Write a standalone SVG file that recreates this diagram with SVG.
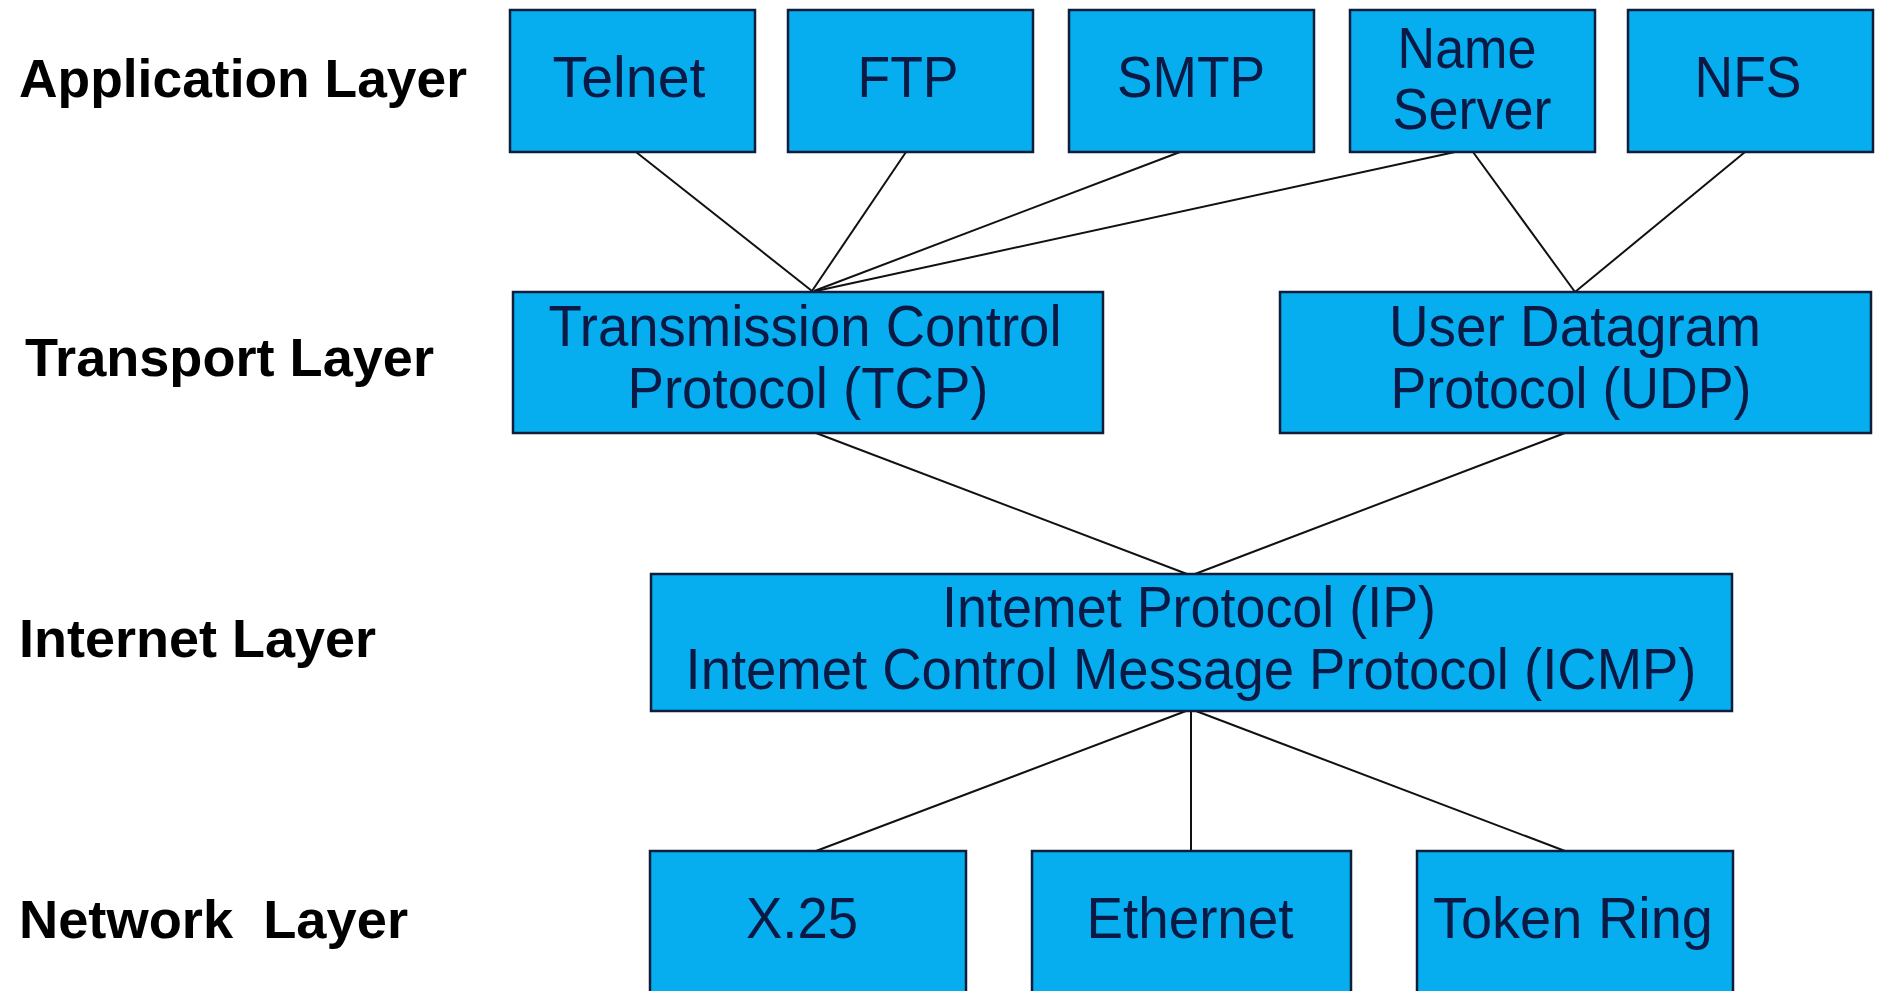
<svg xmlns="http://www.w3.org/2000/svg" width="1877" height="991" viewBox="0 0 1877 991">
<style>
.box{fill:#06AEEF;stroke:#0f1d3a;stroke-width:2.5}
.t{font-family:"Liberation Sans",Arial,sans-serif;font-size:57px;fill:#0b1a45;text-anchor:middle}
.lbl{font-family:"Liberation Sans",Arial,sans-serif;font-size:54px;font-weight:bold;fill:#000;white-space:pre}
.c line{stroke:#111;stroke-width:2}
</style>
<rect width="1877" height="991" fill="#fff"/>
<g id="labels">
<text class="lbl" x="19" y="97" textLength="448" lengthAdjust="spacingAndGlyphs">Application Layer</text>
<text class="lbl" x="25" y="376" textLength="409" lengthAdjust="spacingAndGlyphs">Transport Layer</text>
<text class="lbl" x="19" y="657" textLength="357" lengthAdjust="spacingAndGlyphs">Internet Layer</text>
<text class="lbl" x="19" y="938" textLength="389" lengthAdjust="spacingAndGlyphs" xml:space="preserve">Network  Layer</text>
</g>
<g class="c" id="connectors">
<line x1="636" y1="152" x2="812" y2="291"/>
<line x1="906" y1="152" x2="812" y2="291"/>
<line x1="1180" y1="152" x2="814" y2="291"/>
<line x1="1455" y1="152" x2="816" y2="291"/>
<line x1="1473" y1="152" x2="1575" y2="292"/>
<line x1="1745" y1="152" x2="1575" y2="292"/>
<line x1="816" y1="433" x2="1187" y2="574"/>
<line x1="1565" y1="433" x2="1195" y2="574"/>
<line x1="1186" y1="711" x2="816" y2="851"/>
<line x1="1191" y1="711" x2="1191" y2="851"/>
<line x1="1196" y1="711" x2="1565" y2="851"/>
</g>
<g id="telnet"><rect class="box" x="510" y="10" width="245" height="142"/><text class="t" x="629" y="97" textLength="153" lengthAdjust="spacingAndGlyphs">Telnet</text></g>
<g id="ftp"><rect class="box" x="788" y="10" width="245" height="142"/><text class="t" x="908" y="97" textLength="101" lengthAdjust="spacingAndGlyphs">FTP</text></g>
<g id="smtp"><rect class="box" x="1069" y="10" width="245" height="142"/><text class="t" x="1191" y="97" textLength="148" lengthAdjust="spacingAndGlyphs">SMTP</text></g>
<g id="nameserver"><rect class="box" x="1350" y="10" width="245" height="142"/><text class="t" x="1467" y="68" textLength="139" lengthAdjust="spacingAndGlyphs">Name</text><text class="t" x="1472" y="129" textLength="159" lengthAdjust="spacingAndGlyphs">Server</text></g>
<g id="nfs"><rect class="box" x="1628" y="10" width="245" height="142"/><text class="t" x="1748" y="97" textLength="107" lengthAdjust="spacingAndGlyphs">NFS</text></g>
<g id="tcp"><rect class="box" x="513" y="292" width="590" height="141"/><text class="t" x="805" y="346" textLength="513" lengthAdjust="spacingAndGlyphs">Transmission Control</text><text class="t" x="808" y="408" textLength="361" lengthAdjust="spacingAndGlyphs">Protocol (TCP)</text></g>
<g id="udp"><rect class="box" x="1280" y="292" width="591" height="141"/><text class="t" x="1575" y="346" textLength="372" lengthAdjust="spacingAndGlyphs">User Datagram</text><text class="t" x="1571" y="408" textLength="361" lengthAdjust="spacingAndGlyphs">Protocol (UDP)</text></g>
<g id="ip"><rect class="box" x="651" y="574" width="1081" height="137"/><text class="t" x="1189" y="627" textLength="494" lengthAdjust="spacingAndGlyphs">Intemet Protocol (IP)</text><text class="t" x="1191" y="689" textLength="1011" lengthAdjust="spacingAndGlyphs">Intemet Control Message Protocol (ICMP)</text></g>
<g id="x25"><rect class="box" x="650" y="851" width="316" height="145"/><text class="t" x="802" y="938" textLength="112" lengthAdjust="spacingAndGlyphs">X.25</text></g>
<g id="ethernet"><rect class="box" x="1032" y="851" width="319" height="145"/><text class="t" x="1190" y="938" textLength="207" lengthAdjust="spacingAndGlyphs">Ethernet</text></g>
<g id="tokenring"><rect class="box" x="1417" y="851" width="316" height="145"/><text class="t" x="1573" y="938" textLength="280" lengthAdjust="spacingAndGlyphs">Token Ring</text></g>
</svg>
